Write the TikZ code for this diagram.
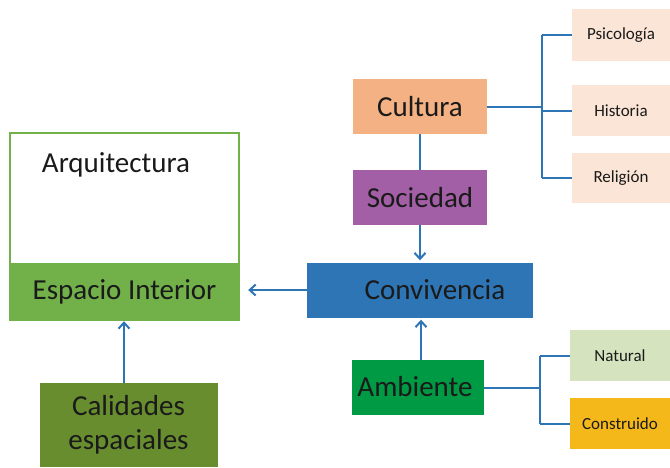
\documentclass[tikz,border=0pt]{standalone}
\usepackage{fontspec}
\setmainfont{Carlito}
\usetikzlibrary{arrows.meta}
\definecolor{linkblue}{HTML}{2E75B6}
\definecolor{cultfill}{HTML}{F4B183}
\definecolor{socfill}{HTML}{A35FA5}
\definecolor{convfill}{HTML}{2E75B6}
\definecolor{ambfill}{HTML}{009A44}
\definecolor{natfill}{HTML}{D5E3BF}
\definecolor{consfill}{HTML}{F4B81A}
\definecolor{peach}{HTML}{FBE5D6}
\definecolor{espfill}{HTML}{72B04A}
\definecolor{calfill}{HTML}{688D2F}
\definecolor{txt}{HTML}{1A1A1A}
\tikzset{
  x=1pt, y=-1pt,
  box/.style={rectangle, inner sep=0pt, text=txt, font=\fontsize{29}{34}\selectfont},
  smallbox/.style={rectangle, inner sep=0pt, fill=peach, text=txt, font=\fontsize{17}{20}\selectfont},
  bigtext/.style={inner sep=0pt, text=txt, font=\fontsize{29}{34}\selectfont},
  link/.style={draw=linkblue, line width=2pt},
  arr/.style={link, -{Straight Barb[length=6pt,width=11pt,line width=2pt]}}
}
\begin{document}
\begin{tikzpicture}
\useasboundingbox (0,0) rectangle (670,467);
% Arquitectura block
\node[rectangle, draw=espfill, line width=2pt, minimum width=229pt, minimum height=187pt, inner sep=0pt] (arq) at (124.5,226.5) {};
\node[box, fill=espfill, minimum width=229pt, minimum height=57pt] (esp) at (124.5,291.5) {Espacio Interior};
\node[bigtext] (arqt) at (116,165) {Arquitectura};
% Calidades
\node[box, fill=calfill, minimum width=178pt, minimum height=84pt, align=center] (cal) at (128.5,425) {Calidades\\espaciales};
% Top chain
\node[box, fill=cultfill, minimum width=134pt, minimum height=55pt] (cult) at (420,106.5) {Cultura};
\node[box, fill=socfill, minimum width=134pt, minimum height=55pt] (soc) at (420,197.5) {Sociedad};
\node[box, fill=convfill, minimum width=226pt, minimum height=55pt] (conv) at (420,290) {};
\node[bigtext] (convt) at (435,290) {Convivencia};
\node[box, fill=ambfill, minimum width=132pt, minimum height=55pt] (amb) at (418,387.5) {};
\node[bigtext] (ambt) at (415,387) {Ambiente};
% small boxes
\node[smallbox, minimum width=98pt, minimum height=52pt] (psi) at (621,35) {Psicología};
\node[smallbox, minimum width=98pt, minimum height=51pt] (his) at (621,110.5) {Historia};
\node[smallbox, minimum width=98pt, minimum height=50pt] (rel) at (621,178) {Religión};
\node[smallbox, fill=natfill, minimum width=100pt, minimum height=51pt] (nat) at (620,355.5) {Natural};
\node[smallbox, fill=consfill, minimum width=100pt, minimum height=51pt] (cons) at (620,423.5) {Construido};
% connectors
\coordinate (cj) at (542,107);
\draw[link] (cult.east |- cj) -- (cj);
\draw[link] (cj |- psi) -- (cj |- rel);
\draw[link] (cj |- psi) -- (psi.west);
\draw[link] (cj |- his) -- (his.west);
\draw[link] (cj |- rel) -- (rel.west);
\draw[link] (cult.south) -- (soc.north);
\draw[arr] (soc.south) -- ([yshift=2pt]conv.north);
\draw[arr] (amb.north -| 421,0) -- ([yshift=-2pt]conv.south -| 421,0);
\draw[arr] (conv.west) -- ([xshift=9pt]esp.east |- conv.west);
\draw[arr] (cal.north -| 124,0) -- ([yshift=-1pt]esp.south -| 124,0);
\coordinate (aj) at (540,388);
\draw[link] (amb.east |- aj) -- (aj);
\draw[link] (aj |- nat) -- (aj |- cons);
\draw[link] (aj |- nat) -- (nat.west);
\draw[link] (aj |- cons) -- (cons.west);
\end{tikzpicture}
\end{document}
